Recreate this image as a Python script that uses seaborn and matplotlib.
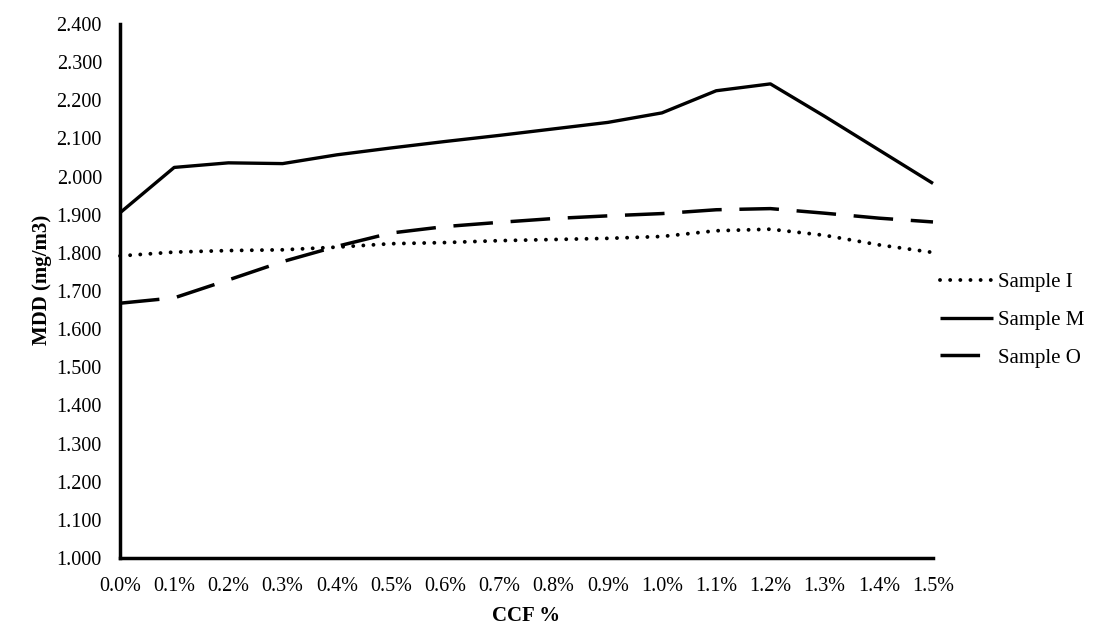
import numpy as np
import pandas as pd
import matplotlib
matplotlib.use("Agg")
import matplotlib.pyplot as plt
import seaborn as sns

ccf = [0.0, 0.1, 0.2, 0.3, 0.4, 0.5, 0.6, 0.7, 0.8, 0.9, 1.0, 1.1, 1.2, 1.3, 1.4, 1.5]
sample_i = [1.792, 1.802, 1.806, 1.808, 1.815, 1.824, 1.827, 1.832, 1.835, 1.838,
            1.843, 1.858, 1.862, 1.846, 1.821, 1.801]
sample_m = [1.905, 2.024, 2.036, 2.034, 2.057, 2.075, 2.092, 2.108, 2.125, 2.142,
            2.167, 2.225, 2.243, 2.158, 2.070, 1.982]
sample_o = [1.668, 1.682, 1.729, 1.777, 1.817, 1.852, 1.869, 1.880, 1.890, 1.897,
            1.903, 1.913, 1.916, 1.904, 1.891, 1.881]
series_names = ["Sample I", "Sample M", "Sample O"]
x_tick_labels = [f"{v:.1f}%" for v in ccf]
y_ticks = [1.0, 1.1, 1.2, 1.3, 1.4, 1.5, 1.6, 1.7, 1.8, 1.9, 2.0, 2.1, 2.2, 2.3, 2.4]

sns.set_theme(style="white")
plt.rcParams['font.family'] = ['Liberation Serif', 'DejaVu Serif']

fig = plt.figure(figsize=(10.94, 6.32), dpi=100)
ax = fig.add_axes([120/1094, (632-558)/632, (933-120)/1094, (558-24)/632])

styles = {
    "Sample I": dict(linestyle=(0, (0.01, 2.6)), linewidth=2.8),
    "Sample M": dict(linestyle="-", linewidth=2.4),
    "Sample O": dict(linestyle=(0, (11.4, 5.1)), linewidth=2.5),
}
data = {"Sample I": sample_i, "Sample M": sample_m, "Sample O": sample_o}
for name in series_names:
    df = pd.DataFrame({"CCF": ccf, "MDD": data[name]})
    sns.lineplot(data=df, x="CCF", y="MDD", ax=ax, color="black",
                 label=name, clip_on=False, **styles[name])

for ln in ax.lines:
    ln.set_dash_capstyle("round" if ln.get_label() == "Sample I" else "butt")
    ln.set_solid_capstyle("butt")

ax.set_xlim(0, 1.5)
ax.set_ylim(1.0, 2.4)
ax.set_xticks(ccf)
ax.set_xticklabels(x_tick_labels)
ax.set_yticks(y_ticks)
ax.set_yticklabels([f"{v:.3f}" for v in y_ticks])

for s in ["top", "right"]:
    ax.spines[s].set_visible(False)
for s in ["left", "bottom"]:
    ax.spines[s].set_color("black")
    ax.spines[s].set_linewidth(2.5)
ax.tick_params(axis="both", which="major", direction="out", length=4.3, width=2.4,
               color="black", labelsize=14.5, labelcolor="black")
ax.tick_params(axis="x", pad=9.5)
ax.tick_params(axis="y", pad=8.7)
ax.set_xlabel("CCF %", fontsize=15, fontweight="bold", color="black", labelpad=7)
ax.set_ylabel("MDD (mg/m3)", fontsize=15, fontweight="bold", color="black")
ax.yaxis.set_label_coords(52/1094, (632-280)/632, transform=fig.transFigure)
ax.grid(False)

leg = ax.legend(loc="center left", bbox_to_anchor=(940/1094, (632-320)/632),
                bbox_transform=fig.transFigure, frameon=False, fontsize=15,
                handlelength=2.55, handletextpad=0.24, labelspacing=0.88,
                borderaxespad=0, borderpad=0)
for t in leg.get_texts():
    t.set_color("black")
for h in leg.get_lines():
    h.set_dash_capstyle("round" if h.get_label() == "Sample I" else "butt")

fig.savefig("out.png", dpi=100)
